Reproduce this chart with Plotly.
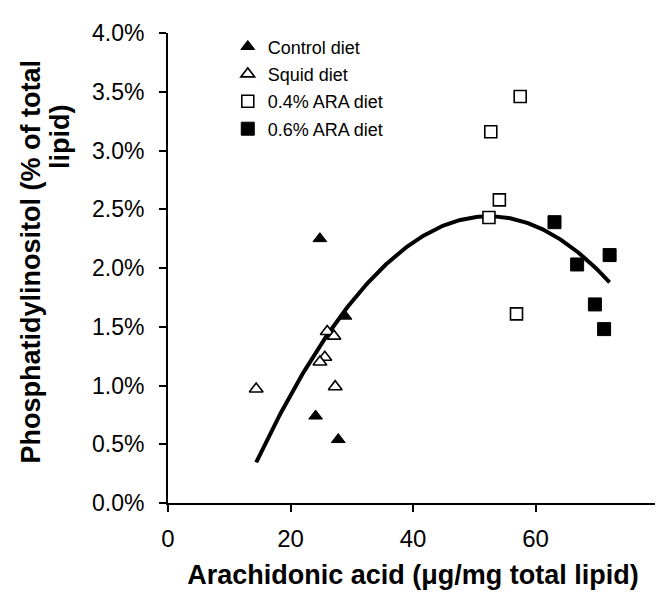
import numpy as np
import plotly.graph_objects as go

# ---- data (x: µg/mg total lipid, y: % of total lipid) ----
control_x = [24.8, 28.9, 24.1, 27.8]
control_y = [2.25, 1.59, 0.74, 0.54]

squid_x = [26.0, 27.1, 25.6, 24.8, 27.3, 14.4]
squid_y = [1.46, 1.42, 1.24, 1.20, 0.99, 0.97]

ara04_x = [57.5, 52.7, 54.1, 52.4, 56.9]
ara04_y = [3.46, 3.16, 2.58, 2.43, 1.61]

ara06_x = [63.1, 72.1, 66.8, 69.7, 71.2]
ara06_y = [2.39, 2.11, 2.03, 1.69, 1.48]

# quadratic trend line (in %), fitted curve shown in the figure
fit_a, fit_b, fit_c = -0.00145, 0.15196, -1.541
fit_x_range = [14.4, 72.1]

x_ticks = [0, 20, 40, 60, 80]
y_ticks = [0.0, 0.005, 0.010, 0.015, 0.020, 0.025, 0.030, 0.035, 0.040]

FONT = "Arial, Liberation Sans, Helvetica, sans-serif"

def pct(v):
    return [u / 100.0 for u in v]

fx = np.linspace(fit_x_range[0], fit_x_range[1], 200)
fy = (fit_a * fx ** 2 + fit_b * fx + fit_c) / 100.0

fig = go.Figure()
fig.add_trace(go.Scatter(x=fx, y=fy, mode="lines", line=dict(color="black", width=4),
                         showlegend=False, hoverinfo="skip"))
fig.add_trace(go.Scatter(x=control_x, y=pct(control_y), mode="markers", name="Control diet",
                         legendgroup="a",
                         marker=dict(symbol="triangle-up", size=12, color="black",
                                     line=dict(color="black", width=1))))
fig.add_trace(go.Scatter(x=squid_x, y=pct(squid_y), mode="markers", name="Squid diet",
                         legendgroup="b",
                         marker=dict(symbol="triangle-up", size=12, color="white",
                                     line=dict(color="black", width=1.6))))
fig.add_trace(go.Scatter(x=ara04_x, y=pct(ara04_y), mode="markers", name="0.4% ARA diet",
                         legendgroup="c",
                         marker=dict(symbol="square", size=12, color="white",
                                     line=dict(color="black", width=1.6))))
fig.add_trace(go.Scatter(x=ara06_x, y=pct(ara06_y), mode="markers", name="0.6% ARA diet",
                         legendgroup="d",
                         marker=dict(symbol="square", size=13, color="black",
                                     line=dict(color="black", width=1))))

fig.update_layout(
    width=663, height=593,
    margin=dict(l=160, r=13, t=20, b=98),
    paper_bgcolor="white", plot_bgcolor="white",
    font=dict(family=FONT, color="black"),
    legend=dict(x=0.122, y=1.01, xanchor="left", yanchor="top",
                font=dict(size=18, family=FONT, color="black"),
                bgcolor="rgba(0,0,0,0)", tracegroupgap=1),
    xaxis=dict(range=[0, 80], tickvals=x_ticks, ticks="outside", ticklen=7, tickwidth=2,
               tickcolor="black", showline=True, linecolor="black", linewidth=2,
               showgrid=False, zeroline=False, tickfont=dict(size=24, family=FONT),
               ticklabelstandoff=6,
               title=dict(text="<b>Arachidonic acid (μg/mg total lipid)</b>",
                          font=dict(size=27, family=FONT), standoff=14)),
    yaxis=dict(range=[0, 0.04], tickvals=y_ticks, tickformat=".1%", ticks="outside",
               ticklen=7, tickwidth=2, tickcolor="black", showline=True, linecolor="black",
               linewidth=2, showgrid=False, zeroline=False, ticklabelstandoff=10,
               tickfont=dict(size=23, family=FONT)),
    annotations=[
        dict(text="<b>Phosphatidylinositol (% of total</b>", xref="paper", yref="paper",
             x=(23 - 160) / 490, y=(495 - 252) / 475, xanchor="center", yanchor="middle",
             textangle=-90, showarrow=False,
             font=dict(size=27, family=FONT, color="black")),
        dict(text="<b>lipid)</b>", xref="paper", yref="paper",
             x=(52 - 160) / 490, y=(495 - 125) / 475, xanchor="center", yanchor="middle",
             textangle=-90, showarrow=False,
             font=dict(size=27, family=FONT, color="black")),
    ],
)

fig.write_html("out.html")
